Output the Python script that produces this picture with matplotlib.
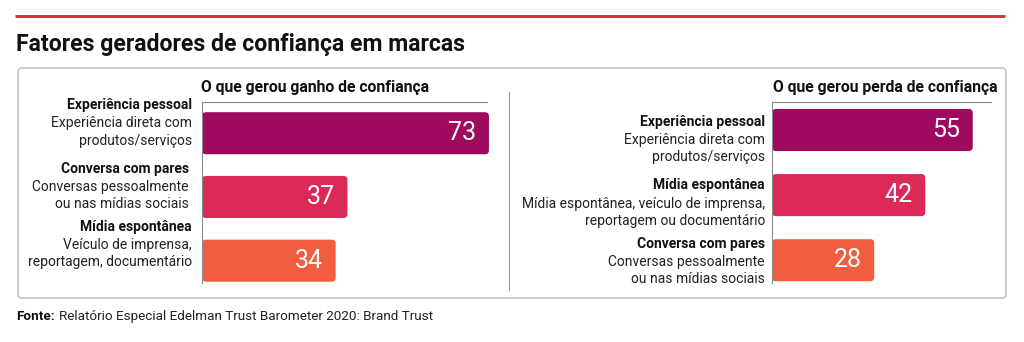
import matplotlib
matplotlib.use("Agg")
import matplotlib.pyplot as plt
from matplotlib.patches import FancyBboxPatch

plt.rcParams['font.family'] = ['Roboto', 'DejaVu Sans']

# dados
titulo = "Fatores geradores de confiança em marcas"
fonte = "Relatório Especial Edelman Trust Barometer 2020: Brand Trust"

ganho_titulo = "O que gerou ganho de confiança"
ganho_cat = ["Experiência pessoal", "Conversa com pares", "Mídia espontânea"]
ganho_desc = [["Experiência direta com", "produtos/serviços"],
              ["Conversas pessoalmente", "ou nas mídias sociais"],
              ["Veículo de imprensa,", "reportagem, documentário"]]
ganho_val = [73, 37, 34]

perda_titulo = "O que gerou perda de confiança"
perda_cat = ["Experiência pessoal", "Mídia espontânea", "Conversa com pares"]
perda_desc = [["Experiência direta com", "produtos/serviços"],
              ["Mídia espontânea, veículo de imprensa,", "reportagem ou documentário"],
              ["Conversas pessoalmente", "ou nas mídias sociais"]]
perda_val = [55, 42, 28]

cores = ["#9e0b5e", "#db2a57", "#f15e3f"]

W, H = 1024, 342
fig = plt.figure(figsize=(W / 100, H / 100), dpi=100)

# camada de fundo em pixels (caixa, linha vermelha, textos soltos)
bg = fig.add_axes([0, 0, 1, 1], zorder=0)
bg.set_xlim(0, W)
bg.set_ylim(H, 0)
bg.axis('off')

bg.plot([15, 1005], [16, 16], color="#d8353c", lw=2.2, solid_capstyle='butt')
bg.text(16, 51, titulo, fontsize=16.6, weight='bold', color="#111111", va='baseline')
bg.add_patch(FancyBboxPatch((18, 68), 988, 230, boxstyle="round,pad=0,rounding_size=4",
                            fc='white', ec="#c4c4c4", lw=1.2))
bg.plot([509, 509], [92, 290], color="#9a9a9a", lw=0.8)

t = bg.text(16, 320, "Fonte:", fontsize=9.7, weight='bold', color="#111111", va='baseline')
bg.annotate(fonte, xy=(1, 0), xycoords=t, xytext=(3, 0), textcoords='offset points',
            fontsize=9.7, color="#222222", va='bottom')


def px_axes(x0, y0, x1, y1):
    return fig.add_axes([x0 / W, 1 - y1 / H, (x1 - x0) / W, (y1 - y0) / H], zorder=2)


def painel(ax, vals, xmax, ylim, alt):
    ax.set_xlim(0, xmax)
    ax.set_ylim(*ylim)
    ax.patch.set_alpha(0)
    bars = ax.barh(range(len(vals)), vals, height=alt, color=cores)
    # troca os retangulos por barras com cantos arredondados
    bb = ax.get_position()
    px_x = bb.width * W / xmax
    px_y = bb.height * H / abs(ylim[1] - ylim[0])
    r = 4 / px_x
    for b in bars:
        b.set_visible(False)
        p = FancyBboxPatch((b.get_x(), b.get_y()), b.get_width(), b.get_height(),
                           boxstyle=f"round,pad=0,rounding_size={r}",
                           mutation_aspect=px_x / px_y,
                           fc=b.get_facecolor(), ec='none', clip_on=False)
        ax.add_patch(p)
    for i, v in enumerate(vals):
        ax.annotate(str(v), xy=(v, i), xytext=(-9, 0), textcoords='offset points',
                    ha='right', va='center', color='white', fontsize=18,
                    annotation_clip=False)
    for s in ['right', 'bottom']:
        ax.spines[s].set_visible(False)
    for s in ['left', 'top']:
        ax.spines[s].set_color("#8a8a8a")
        ax.spines[s].set_linewidth(0.8)
    ax.set_xticks([])
    ax.set_yticks([])


ax1 = px_axes(202, 102, 487, 283)
painel(ax1, ganho_val, 72.5, (2.35, -0.49), 0.66)
ax2 = px_axes(772, 102, 991, 283)
painel(ax2, perda_val, 60, (2.35, -0.43), 0.646)

bg.text(201, 92, ganho_titulo, fontsize=11.3, weight='bold', color="#111111", va='baseline')
bg.text(773, 92, perda_titulo, fontsize=11.3, weight='bold', color="#111111", va='baseline')

# rotulos das categorias (linha em negrito + descricao)
ganho_x = [192, 189, 192]
ganho_y = [[105, 123, 141], [169, 187, 204], [227, 245, 262]]
perda_x = [765, 765, 765]
perda_y = [[122, 140, 157], [185, 204, 221], [244, 262, 279]]


def rotulos(cats, descs, xs, ys):
    for c, d, x, y in zip(cats, descs, xs, ys):
        bg.text(x, y[0], c, fontsize=10, weight='bold', color="#111111", ha='right', va='center')
        for linha, yy in zip(d, y[1:]):
            bg.text(x, yy, linha, fontsize=10, color="#222222", ha='right', va='center')


rotulos(ganho_cat, ganho_desc, ganho_x, ganho_y)
rotulos(perda_cat, perda_desc, perda_x, perda_y)

fig.savefig("out.png", dpi=100)
